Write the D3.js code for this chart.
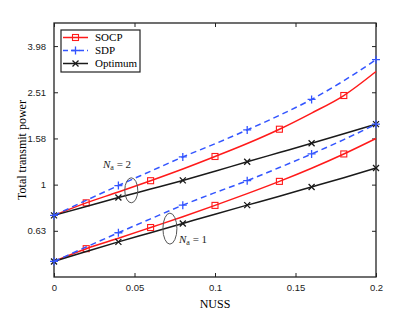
<!DOCTYPE html>
<html>
<head>
<meta charset="utf-8">
<script src="https://cdn.jsdelivr.net/npm/d3@7"></script>
<style>
body { margin: 0; background: #fff; }
svg { display: block; }
</style>
</head>
<body>
<div class="svgcont"></div>
<script>
const w = 416;
const h = 318;

// NUSS values
const nuss = [0, 0.02, 0.04, 0.06, 0.08, 0.1, 0.12, 0.14, 0.16, 0.18, 0.2];

// total transmit power, N_a = 2
const socp2 = [0.736, 0.834, 0.929, 1.040, 1.169, 1.324, 1.507, 1.738, 2.042, 2.432, 3.090];
const sdp2 = [0.736, 0.855, 0.991, 1.143, 1.318, 1.503, 1.726, 1.995, 2.339, 2.818, 3.475];
const opt2 = [0.736, 0.804, 0.879, 0.957, 1.043, 1.143, 1.256, 1.377, 1.510, 1.660, 1.828];

// total transmit power, N_a = 1
const socp1 = [0.465, 0.528, 0.586, 0.652, 0.726, 0.813, 0.914, 1.033, 1.178, 1.358, 1.585];
const sdp1 = [0.465, 0.537, 0.619, 0.711, 0.815, 0.923, 1.040, 1.186, 1.358, 1.567, 1.828];
const opt1 = [0.465, 0.513, 0.565, 0.619, 0.679, 0.745, 0.815, 0.891, 0.977, 1.072, 1.180];

const xTicks = [0, 0.05, 0.1, 0.15, 0.2];
const yTicks = [0.631, 1, 1.585, 2.512, 3.981];
const yTickLabels = ["0.63", "1", "1.58", "2.51", "3.98"];

const margin = { left: 54, right: 40, top: 23, bottom: 41 };

let svg = d3.select(".svgcont").append("svg")
  .attr("width", w)
  .attr("height", h);

const x = d3.scaleLinear().domain([0, 0.2]).range([margin.left, w - margin.right]);
const y = d3.scaleLog().domain([Math.pow(10, -0.4), Math.pow(10, 0.7)]).range([h - margin.bottom, margin.top]);

// axes, matlab style box with inward ticks
const tickFont = "'Liberation Sans', Arial, sans-serif";
svg.append("g")
  .attr("transform", `translate(0,${h - margin.bottom})`)
  .call(d3.axisBottom(x).tickValues(xTicks).tickSizeInner(-4).tickSizeOuter(0).tickPadding(7).tickFormat(d3.format("")))
  .call(g => g.select(".domain").remove());
svg.append("g")
  .attr("transform", `translate(0,${margin.top})`)
  .call(d3.axisTop(x).tickValues(xTicks).tickSizeInner(-4).tickSizeOuter(0).tickFormat(""))
  .call(g => g.select(".domain").remove());
svg.append("g")
  .attr("transform", `translate(${margin.left},0)`)
  .call(d3.axisLeft(y).tickValues(yTicks).tickSizeInner(-4).tickSizeOuter(0).tickPadding(8).tickFormat((d, i) => yTickLabels[i]))
  .call(g => g.select(".domain").remove());
svg.append("g")
  .attr("transform", `translate(${w - margin.right},0)`)
  .call(d3.axisRight(y).tickValues(yTicks).tickSizeInner(-4).tickSizeOuter(0).tickFormat(""))
  .call(g => g.select(".domain").remove());

svg.selectAll(".tick line").attr("stroke", "#222").attr("stroke-width", 1);
svg.selectAll(".tick text").attr("font-family", tickFont).attr("font-size", 9.5).attr("fill", "#222");

svg.append("rect")
  .attr("x", margin.left).attr("y", margin.top)
  .attr("width", w - margin.left - margin.right)
  .attr("height", h - margin.top - margin.bottom)
  .attr("fill", "none").attr("stroke", "#222").attr("stroke-width", 1.3);

// axis labels
const serif = "'Liberation Serif', 'Times New Roman', serif";
svg.append("text")
  .attr("x", x(0.1)).attr("y", 308)
  .attr("text-anchor", "middle")
  .attr("font-family", serif).attr("font-size", 12)
  .text("NUSS");
svg.append("text")
  .attr("transform", `translate(26,${(margin.top + h - margin.bottom) / 2}) rotate(-90)`)
  .attr("text-anchor", "middle")
  .attr("font-family", serif).attr("font-size", 12)
  .text("Total transmit power");

// series
const series = [
  { vals: socp2, color: "#ff1a1a", dash: null, marker: "square", start: 1 },
  { vals: socp1, color: "#ff1a1a", dash: null, marker: "square", start: 1 },
  { vals: opt2, color: "#1a1a1a", dash: null, marker: "x", start: 0 },
  { vals: opt1, color: "#1a1a1a", dash: null, marker: "x", start: 0 },
  { vals: sdp2, color: "#3355ff", dash: "6,4", marker: "plus", start: 0 },
  { vals: sdp1, color: "#3355ff", dash: "6,4", marker: "plus", start: 0 }
];

const line = d3.line()
  .x((d, i) => x(nuss[i]))
  .y(d => y(d))
  .curve(d3.curveMonotoneX);

function drawMarker(g, type, cx, cy, color) {
  if (type === "square") {
    g.append("rect").attr("x", cx - 3).attr("y", cy - 3).attr("width", 6).attr("height", 6)
      .attr("fill", "none").attr("stroke", color).attr("stroke-width", 1.1);
  } else if (type === "plus") {
    g.append("path").attr("d", `M${cx - 4},${cy}H${cx + 4}M${cx},${cy - 4}V${cy + 4}`)
      .attr("stroke", color).attr("stroke-width", 1.3);
  } else {
    g.append("path").attr("d", `M${cx - 3},${cy - 3}L${cx + 3},${cy + 3}M${cx - 3},${cy + 3}L${cx + 3},${cy - 3}`)
      .attr("stroke", color).attr("stroke-width", 1.3);
  }
}

series.forEach(s => {
  svg.append("path")
    .datum(s.vals)
    .attr("d", line)
    .attr("fill", "none")
    .attr("stroke", s.color)
    .attr("stroke-width", 1.5)
    .attr("stroke-dasharray", s.dash);
  let mg = svg.append("g");
  s.vals.forEach((v, i) => {
    if ((i - s.start) % 2 === 0 && i >= s.start) drawMarker(mg, s.marker, x(nuss[i]), y(v), s.color);
  });
});

// annotations
const notes = [
  { nx: 0.048, ny: 0.945, rx: 6.5, ry: 12.5, label: "2", lx: 103, ly: 168 },
  { nx: 0.072, ny: 0.645, rx: 7, ry: 15.5, label: "1", lx: 179, ly: 243 }
];
notes.forEach(n => {
  svg.append("ellipse")
    .attr("cx", x(n.nx)).attr("cy", y(n.ny))
    .attr("rx", n.rx).attr("ry", n.ry)
    .attr("fill", "none").attr("stroke", "#555").attr("stroke-width", 1);
  let t = svg.append("text")
    .attr("x", n.lx).attr("y", n.ly)
    .attr("font-family", serif).attr("font-size", 11).attr("fill", "#222");
  t.append("tspan").attr("font-style", "italic").text("N");
  t.append("tspan").attr("font-size", 8).attr("dy", 2).text("a");
  t.append("tspan").attr("dy", -2).text(" = " + n.label);
});

// legend
const legendItems = [
  { name: "SOCP", color: "#ff1a1a", dash: null, marker: "square" },
  { name: "SDP", color: "#3355ff", dash: "5,3", marker: "plus" },
  { name: "Optimum", color: "#1a1a1a", dash: null, marker: "x" }
];
let legend = svg.append("g");
legend.append("rect")
  .attr("x", 61).attr("y", 30).attr("width", 79).attr("height", 42)
  .attr("fill", "#fff").attr("stroke", "#222").attr("stroke-width", 1.2);
legendItems.forEach((d, i) => {
  const ly = 37.5 + i * 13;
  legend.append("line")
    .attr("x1", 63).attr("x2", 88).attr("y1", ly).attr("y2", ly)
    .attr("stroke", d.color).attr("stroke-width", 1.5)
    .attr("stroke-dasharray", d.dash);
  drawMarker(legend, d.marker, 75.5, ly, d.color);
  legend.append("text")
    .attr("x", 95).attr("y", ly + 3.8)
    .attr("font-family", serif).attr("font-size", 11)
    .text(d.name);
});
</script>
</body>
</html>
